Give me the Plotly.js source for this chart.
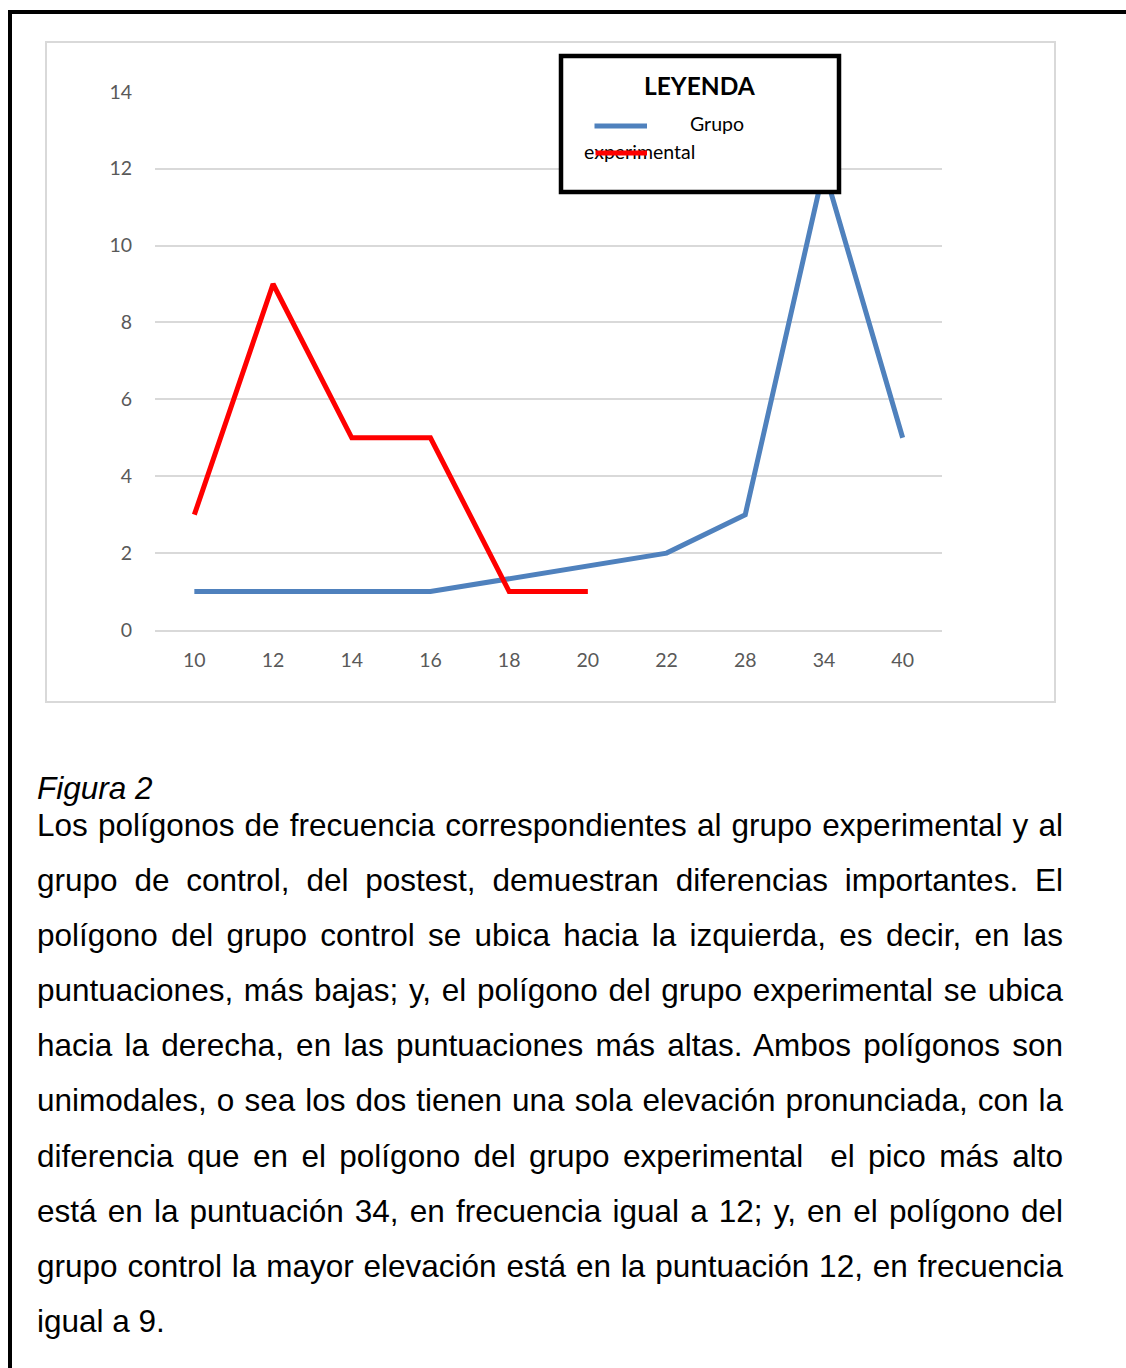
<!DOCTYPE html>
<html>
<head>
<meta charset="utf-8">
<script src="https://cdn.plot.ly/plotly-3.0.1.min.js"></script>
<style>
  html, body { margin:0; padding:0; background:#fff; }
  #wrap { position:relative; width:1126px; height:1368px; overflow:hidden; }
  #chart { position:absolute; left:0; top:0; width:1126px; height:1368px; }
  #frame { position:absolute; left:8px; top:10px; width:1200px; height:1500px;
           border-top:4px solid #000; border-left:4px solid #000; pointer-events:none; }
  .cap { position:absolute; left:37px; width:1026px; font-family:"Liberation Sans", Arial, sans-serif;
         font-size:31.5px; color:#000; }
  #fig { top:770px; line-height:36px; font-style:italic; }
  #para { top:798px; line-height:55.1px; }
  #para div { text-align:justify; text-align-last:justify; }
  #para div.last { text-align-last:left; }
</style>
</head>
<body>
<div id="wrap">
  <div id="chart"></div>
  <div id="frame"></div>
  <div id="fig" class="cap">Figura 2</div>
  <div id="para" class="cap"></div>
</div>
<script>
// Data
const categories = ["10","12","14","16","18","20","22","28","34","40"];
const grupoExperimental = [1, 1, 1, 1, null, null, 2, 3, 12, 5];
const grupoControl = [3, 9, 5, 5, 1, 1, null, null, null, null];
const yTicks = [0, 2, 4, 6, 8, 10, 12, 14];
const legendTitle = "LEYENDA";
const legendLabel1 = "Grupo";
const legendLabel2 = "experimental";
const captionLines = [
  "Los polígonos de frecuencia correspondientes al grupo experimental y al",
  "grupo de control, del postest, demuestran diferencias importantes. El",
  "polígono del grupo control se ubica hacia la izquierda, es decir, en las",
  "puntuaciones, más bajas; y, el polígono del grupo experimental se ubica",
  "hacia la derecha, en las puntuaciones más altas. Ambos polígonos son",
  "unimodales, o sea los dos tienen una sola elevación pronunciada, con la",
  "diferencia que en el polígono del grupo experimental\u00A0 el pico más alto",
  "está en la puntuación 34, en frecuencia igual a 12; y, en el polígono del",
  "grupo control la mayor elevación está en la puntuación 12, en frecuencia",
  "igual a 9."
];

// caption
const para = document.getElementById('para');
captionLines.forEach((t, i) => {
  const d = document.createElement('div');
  d.textContent = t;
  if (i === captionLines.length - 1) d.className = 'last';
  para.appendChild(d);
});

// pixel helpers -> paper coords (plot area x:155..942, y:91..630)
const L = 155, R = 942, T = 91, B = 630;
const px = v => (v - L) / (R - L);
const py = v => (B - v) / (B - T);

const traces = [
  { x: categories, y: grupoExperimental, type: 'scatter', mode: 'lines', connectgaps: true,
    line: { color: '#4F81BD', width: 5 }, name: 'Grupo experimental', hoverinfo: 'skip' },
  { x: categories, y: grupoControl, type: 'scatter', mode: 'lines', connectgaps: false,
    line: { color: '#FF0000', width: 5 }, name: 'Grupo control', hoverinfo: 'skip' }
];

const layout = {
  width: 1126, height: 1368,
  margin: { l: L, r: 1126 - R, t: T, b: 1368 - B, pad: 0 },
  paper_bgcolor: '#ffffff', plot_bgcolor: '#ffffff',
  showlegend: false,
  xaxis: {
    type: 'category', categoryorder: 'array', categoryarray: categories,
    range: [-0.5, categories.length - 0.5], showgrid: false, zeroline: false,
    showline: true, linecolor: '#d9d9d9', linewidth: 2, ticks: '',
    tickfont: { family: 'Lato, "Open Sans", sans-serif', size: 19.5, color: '#595959' },
    ticklabelstandoff: 12, fixedrange: true
  },
  yaxis: {
    range: [0, 14.02], tickvals: yTicks, ticktext: yTicks.map(String),
    showgrid: true, gridcolor: '#d9d9d9', gridwidth: 2, zeroline: false,
    showline: false, ticks: '',
    tickfont: { family: 'Lato, "Open Sans", sans-serif', size: 19.5, color: '#595959' },
    ticklabelstandoff: 22, fixedrange: true
  },
  shapes: [
    { type: 'rect', xref: 'paper', yref: 'paper', x0: px(46), x1: px(1055), y0: py(702), y1: py(42),
      line: { color: '#d9d9d9', width: 2 }, fillcolor: 'rgba(0,0,0,0)', layer: 'below' },
    { type: 'rect', xref: 'paper', yref: 'paper', x0: px(561), x1: px(839), y0: py(192), y1: py(56),
      line: { color: '#000000', width: 4.5 }, fillcolor: '#ffffff', layer: 'above' }
  ],
  annotations: [
    { xref: 'paper', yref: 'paper', x: px(700), y: py(85), text: '<b>' + legendTitle + '</b>', showarrow: false,
      xanchor: 'center', yanchor: 'middle', font: { family: 'Lato, "Open Sans", sans-serif', size: 24.5, color: '#000' } },
    { xref: 'paper', yref: 'paper', x: px(647), y: py(126), text: '', showarrow: true, arrowhead: 0,
      arrowwidth: 5, arrowcolor: '#4F81BD', ax: -54, ay: 0, standoff: 0, startstandoff: 0 },
    { xref: 'paper', yref: 'paper', x: px(688), y: py(124), text: legendLabel1, showarrow: false,
      xanchor: 'left', yanchor: 'middle', font: { family: 'Lato, "Open Sans", sans-serif', size: 19.5, color: '#000' } },
    { xref: 'paper', yref: 'paper', x: px(582), y: py(151), text: legendLabel2, showarrow: false,
      xanchor: 'left', yanchor: 'middle', font: { family: 'Lato, "Open Sans", sans-serif', size: 19.5, color: '#000' } },
    { xref: 'paper', yref: 'paper', x: px(647), y: py(153), text: '', showarrow: true, arrowhead: 0,
      arrowwidth: 5, arrowcolor: '#FF0000', ax: -53, ay: 0, standoff: 0, startstandoff: 0 }
  ]
};

Plotly.newPlot('chart', traces, layout, { staticPlot: true, displayModeBar: false });
</script>
</body>
</html>
